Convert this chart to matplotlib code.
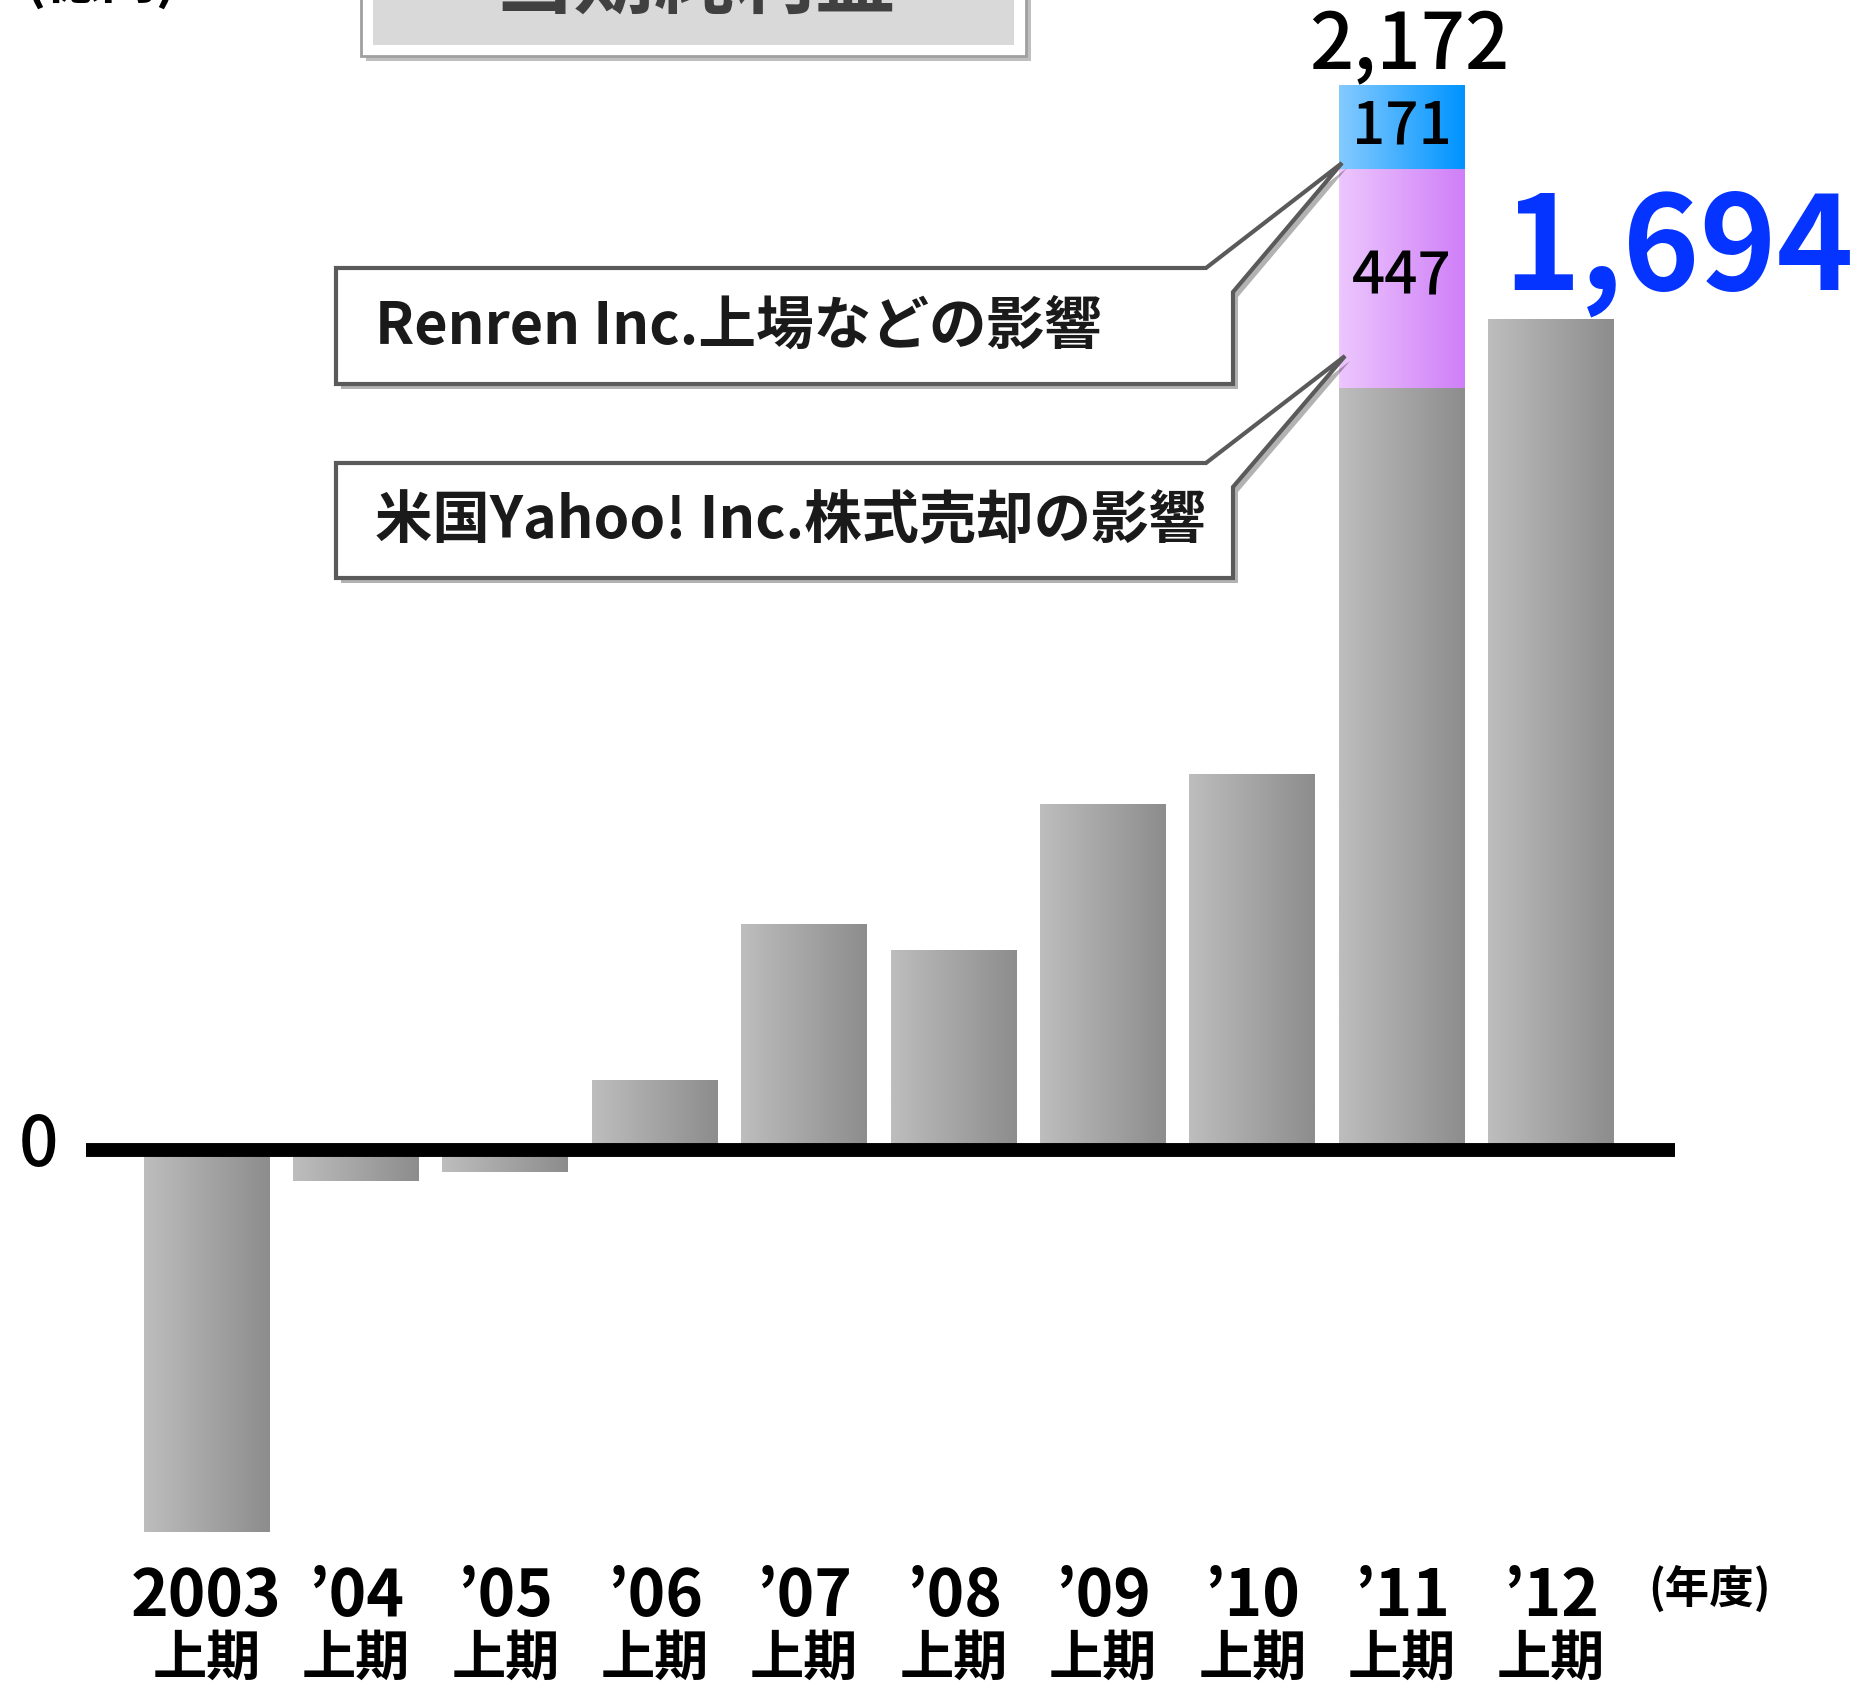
import numpy as np
import matplotlib
matplotlib.use("Agg")
import matplotlib.pyplot as plt
from matplotlib.patches import Polygon, Rectangle
from matplotlib import transforms

plt.rcParams['font.family'] = ['Noto Sans CJK JP', 'DejaVu Sans']

# データ (億円)
years = ["2003", "’04", "’05", "’06", "’07", "’08", "’09", "’10", "’11", "’12"]
half = "上期"
base = [-779, -64, -45, 142, 461, 408, 705, 767, 1554, 1694]
yahoo_gain = 447    # 米国Yahoo! Inc.株式売却の影響 ('11)
renren_gain = 171   # Renren Inc.上場などの影響 ('11)
total_11 = 2172
latest = 1694

W, H = 1862, 1691
fig = plt.figure(figsize=(W / 100, H / 100), dpi=100)
ax = fig.add_axes([0, 0, 1, 1])
ov = fig.add_axes([0, 0, 1, 1], zorder=5)
ov.set_xlim(0, W)
ov.set_ylim(H, 0)
ov.axis("off")
ov.patch.set_alpha(0)

x = np.arange(len(years))
bw = 0.843


def grad_fill(bars, c_left, c_right):
    cmap = matplotlib.colors.LinearSegmentedColormap.from_list("g", [c_left, c_right])
    for b in bars:
        x0, y0 = b.get_x(), b.get_y()
        x1, y1 = x0 + b.get_width(), y0 + b.get_height()
        im = ax.imshow(np.linspace(0, 1, 64).reshape(1, -1), cmap=cmap, aspect="auto",
                       extent=(x0, x1, min(y0, y1), max(y0, y1)), zorder=2)
        im.set_clip_path(b)
        b.set_facecolor("none")


gray = ax.bar(x, base, width=bw, color="#a5a5a5", lw=0, zorder=2)
grad_fill(gray, "#bdbdbd", "#8d8d8d")
pink = ax.bar(x[8], yahoo_gain, bottom=base[8], width=bw, lw=0, zorder=2)
grad_fill(pink, "#ecc6fd", "#d07ff8")
blue = ax.bar(x[8], renren_gain, bottom=base[8] + yahoo_gain, width=bw, lw=0, zorder=2)
grad_fill(blue, "#84caff", "#0094ff")

ax.hlines(0, -0.81, 9.83, color="black", lw=10, zorder=3)

ax.set_xlim(-1.383, 11.08)
ax.set_ylim(-1103.4, 2345.5)
ax.axis("off")

# 値ラベル
ax.text(x[8], base[8] + yahoo_gain + renren_gain / 2, f"{renren_gain}", ha="center", va="center",
        fontsize=42, fontweight="medium", zorder=4)
ax.text(x[8], base[8] + yahoo_gain / 2, f"{yahoo_gain}", ha="center", va="center",
        fontsize=42, fontweight="medium", zorder=4)
ax.text(x[8] + 0.05, total_11 - 2, f"{total_11:,}", ha="center", va="bottom",
        fontsize=56, fontweight="medium", zorder=4)
ov.text(1678, 252, f"{latest:,}", ha="center", va="center", fontsize=94,
        fontweight="bold", color="#0533ff")

ov.text(38, 1146, "0", ha="center", va="center", fontsize=50, fontweight="medium")

# x軸ラベル
tr = transforms.blended_transform_factory(ax.transData, ov.transData)
for i, yr in enumerate(years):
    ax.text(x[i], 1597, yr, transform=tr, ha="center", va="center",
            fontsize=46, fontweight="bold")
    ax.text(x[i], 1659, half, transform=tr, ha="center", va="center",
            fontsize=39, fontweight="bold")
ov.text(1710, 1589, "(年度)", ha="center", va="center", fontsize=32, fontweight="bold")


# 吹き出し
def callout(box, tip, top_x, side_y, label, fs):
    x0, y0, x1, y1 = box
    pts = [(x0, y0), (top_x, y0), tip, (x1, side_y), (x1, y1), (x0, y1)]
    shadow = [(px + 5, py + 5) for px, py in pts]
    ov.add_patch(Polygon(shadow, closed=True, fc="#000000", alpha=0.3, lw=0, zorder=1))
    ov.add_patch(Polygon(pts, closed=True, fc="white", ec="#5a5a5a", lw=3, zorder=2,
                         joinstyle="miter"))
    ov.text(x0 + 39, (y0 + y1) / 2 + 1, label, ha="left", va="center", fontsize=fs,
            fontweight="bold", color="#1a1a1a", zorder=3)


callout((336, 268, 1233, 384), (1342, 163), 1206, 292, "Renren Inc.上場などの影響", 41.5)
callout((336, 463, 1233, 578), (1345, 356), 1206, 487, "米国Yahoo! Inc.株式売却の影響", 41.3)

# タイトル (上端で切れている)
ov.add_patch(Rectangle((366, -10), 665, 71, fc="#000000", alpha=0.25, lw=0, zorder=1))
ov.add_patch(Rectangle((361, -10), 665, 66, fc="white", ec="#a0a0a0", lw=2, zorder=2))
ov.add_patch(Rectangle((373, -10), 641, 55, fc="#d9d9d9", lw=0, zorder=3))
ov.text(695, -16, "当期純利益", ha="center", va="center", fontsize=58,
        fontweight="bold", color="#404040", zorder=4)
ov.text(101, -19, "(億円)", ha="center", va="center", fontsize=40, fontweight="bold")

fig.savefig("out.png", dpi=100)
